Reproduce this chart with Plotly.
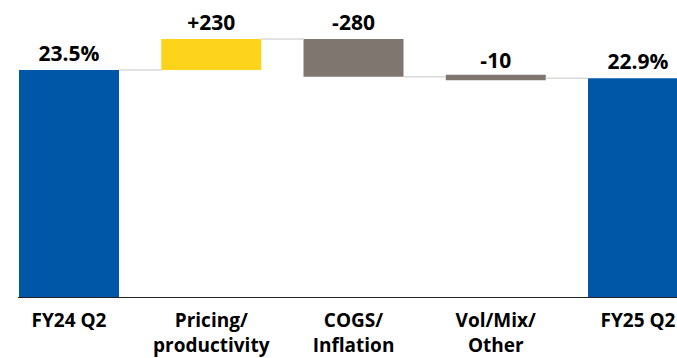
import plotly.graph_objects as go

# Gross margin bridge, FY24 Q2 -> FY25 Q2
categories = ["FY24 Q2", "Pricing/<br>productivity", "COGS/<br>Inflation", "Vol/Mix/<br>Other", "FY25 Q2"]
start_margin = 23.5          # %
end_margin = 22.9            # %
deltas_bps = [230, -280, -10]

BLUE = "#0057A8"
YELLOW = "#FDD31C"
GREY = "#7F7670"
CONNECTOR = "#D9D9D9"

# Build floating bars from the data: each bar spans [low, high]
levels = [start_margin]
for d in deltas_bps:
    levels.append(levels[-1] + d / 100.0)

bases, heights, colors, labels = [], [], [], []
bases.append(0)
heights.append(start_margin)
colors.append(BLUE)
labels.append(f"{start_margin:.1f}%")
for i, d in enumerate(deltas_bps):
    lo, hi = sorted([levels[i], levels[i + 1]])
    bases.append(lo)
    heights.append(hi - lo)
    colors.append(YELLOW if d > 0 else GREY)
    labels.append(f"{d:+d}")
bases.append(0)
heights.append(end_margin)
colors.append(BLUE)
labels.append(f"{end_margin:.1f}%")

x = list(range(len(categories)))
bar_w = 0.703
widths = [bar_w] * len(x)
line_w = [0] * len(x)
# keep the very small bar visible
line_w[3] = 4
widths[3] = bar_w - 0.028

fig = go.Figure()

# connectors between consecutive bars
conn_levels = [start_margin] + levels[1:]
for i in range(len(x) - 1):
    lvl = conn_levels[i]
    fig.add_trace(go.Scatter(
        x=[x[i] + bar_w / 2, x[i + 1] - bar_w / 2], y=[lvl, lvl],
        mode="lines", line=dict(color=CONNECTOR, width=1.5),
        hoverinfo="skip", showlegend=False,
    ))

fig.add_trace(go.Bar(
    x=x, y=heights, base=bases, width=widths,
    marker=dict(color=colors, line=dict(color=colors, width=line_w)),
    text=labels, textposition="outside", cliponaxis=False,
    textfont=dict(family="Open Sans", size=21, color="black", weight="bold"),
    showlegend=False,
))

y_min = 6.69
fig.update_layout(
    width=677, height=358,
    margin=dict(l=18, r=0, t=0, b=61),
    plot_bgcolor="white", paper_bgcolor="white",
    xaxis=dict(
        range=[-0.3585, 4.274], tickmode="array", tickvals=x, ticktext=categories,
        showgrid=False, zeroline=False,
        showline=True, linecolor="#222222", linewidth=1.3,
        tickfont=dict(family="Open Sans", size=19, color="black", weight="bold"),
        ticks="", ticklabelstandoff=6,
    ),
    yaxis=dict(range=[y_min, y_min + 297 / 13.5], visible=False),
    font=dict(family="Open Sans"),
)

fig.write_html("out.html")
